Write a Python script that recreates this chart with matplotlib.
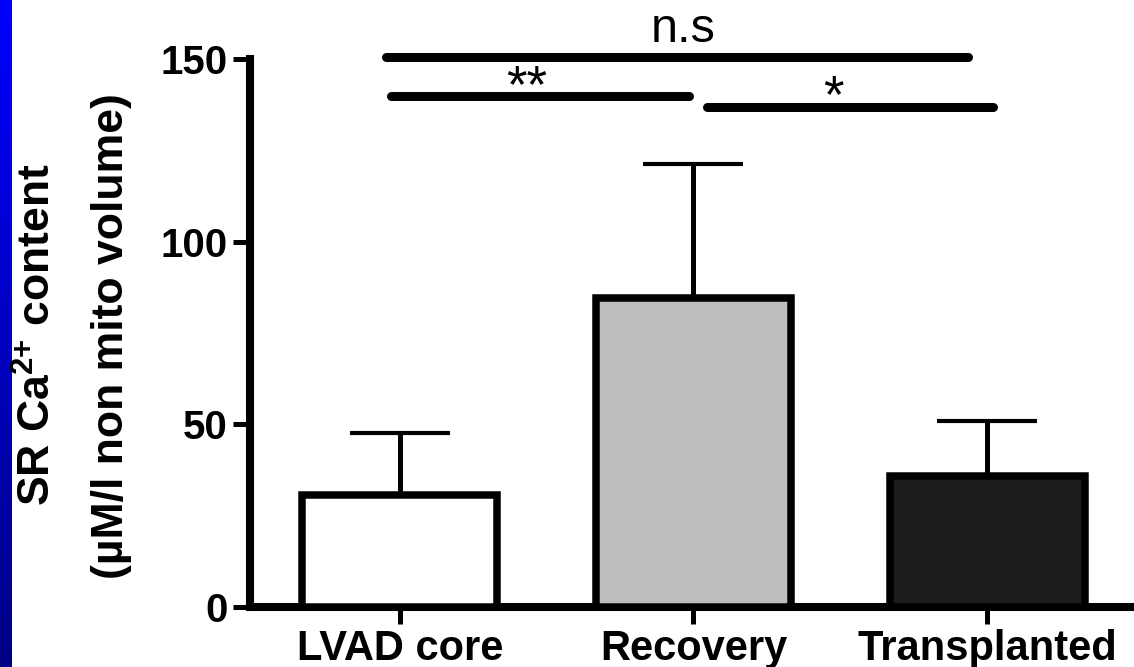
import numpy as np
import matplotlib
matplotlib.use("Agg")
import matplotlib.pyplot as plt

plt.rcParams['font.family'] = ['Liberation Sans', 'DejaVu Sans']
plt.rcParams['mathtext.fontset'] = 'custom'
plt.rcParams['mathtext.rm'] = 'Liberation Sans:bold'
plt.rcParams['mathtext.bf'] = 'Liberation Sans:bold'

# values
groups = ['LVAD core', 'Recovery', 'Transplanted']
means = [30.7, 84.6, 35.9]
sem = [16.9, 36.7, 15.0]
bar_colors = ['white', '#bdbdbd', '#1c1c1c']

# significance brackets: (x start, x end, y, label, label x, label y)
sig_x0 = [-0.046, -0.029, 1.046]
sig_x1 = [1.934, 0.986, 2.019]
sig_y = [150.6, 139.9, 136.9]
sig_text = ['n.s', '**', '*']
sig_tx = [0.964, 0.433, 1.475]
sig_ty = [154.6, 142.0, 139.4]

fig = plt.figure(figsize=(11.34, 6.67), dpi=100)
fig.patch.set_facecolor('white')

# blue strip on the left edge
strip = fig.add_axes([0, 0, 12 / 1134, 1])
grad = np.linspace(0, 1, 256).reshape(-1, 1)
blue = np.zeros((256, 1, 3))
blue[:, 0, 2] = 1.0 - 0.48 * grad[:, 0]
strip.imshow(blue, aspect='auto')
strip.axis('off')

ax = fig.add_axes([250 / 1134, 0.09, 1 - 250 / 1134, 0.8215])
x = np.arange(len(groups))
ax.bar(x, means, width=0.664, color=bar_colors, edgecolor='black',
       linewidth=5.4, zorder=3)
ax.errorbar(x, means, yerr=[[0, 0, 0], sem], fmt='none', ecolor='black',
            elinewidth=3.6, capsize=36, capthick=3.0, zorder=2)

ax.set_xlim(-0.51, 2.5)
ax.set_ylim(0, 150)
ax.set_yticks([0, 50, 100, 150])
ax.set_xticks(x)
ax.set_xticklabels(groups, fontsize=30, fontweight='bold')
for lab in ax.get_yticklabels():
    lab.set_fontsize(29)
    lab.set_fontweight('bold')

for side in ['top', 'right']:
    ax.spines[side].set_visible(False)
for side in ['left', 'bottom']:
    ax.spines[side].set_linewidth(5.8)
ax.tick_params(axis='both', length=12, width=3.6, direction='out')
ax.tick_params(axis='y', pad=4)
ax.tick_params(axis='x', pad=4)

for i in range(len(sig_text)):
    ax.plot([sig_x0[i], sig_x1[i]], [sig_y[i], sig_y[i]], color='black',
            lw=6.5, solid_capstyle='round', clip_on=False)
ax.text(sig_tx[0], sig_ty[0], sig_text[0], fontsize=35, ha='center',
        va='baseline', clip_on=False)
ax.text(sig_tx[1], sig_ty[1], sig_text[1], fontsize=38, ha='center',
        va='center', clip_on=False)
ax.text(sig_tx[2], sig_ty[2], sig_text[2], fontsize=38, ha='center',
        va='center', clip_on=False)

fig.text(38 / 1134, 1 - 335 / 667, r'SR Ca$^{\mathbf{2{+}}}$ content',
         rotation=90, fontsize=32, fontweight='bold', ha='center', va='center')
fig.text(112 / 1134, 1 - 336 / 667, '(\u00b5M/l non mito volume)',
         rotation=90, fontsize=32, fontweight='bold', ha='center', va='center')

fig.savefig('out.png', dpi=100)
